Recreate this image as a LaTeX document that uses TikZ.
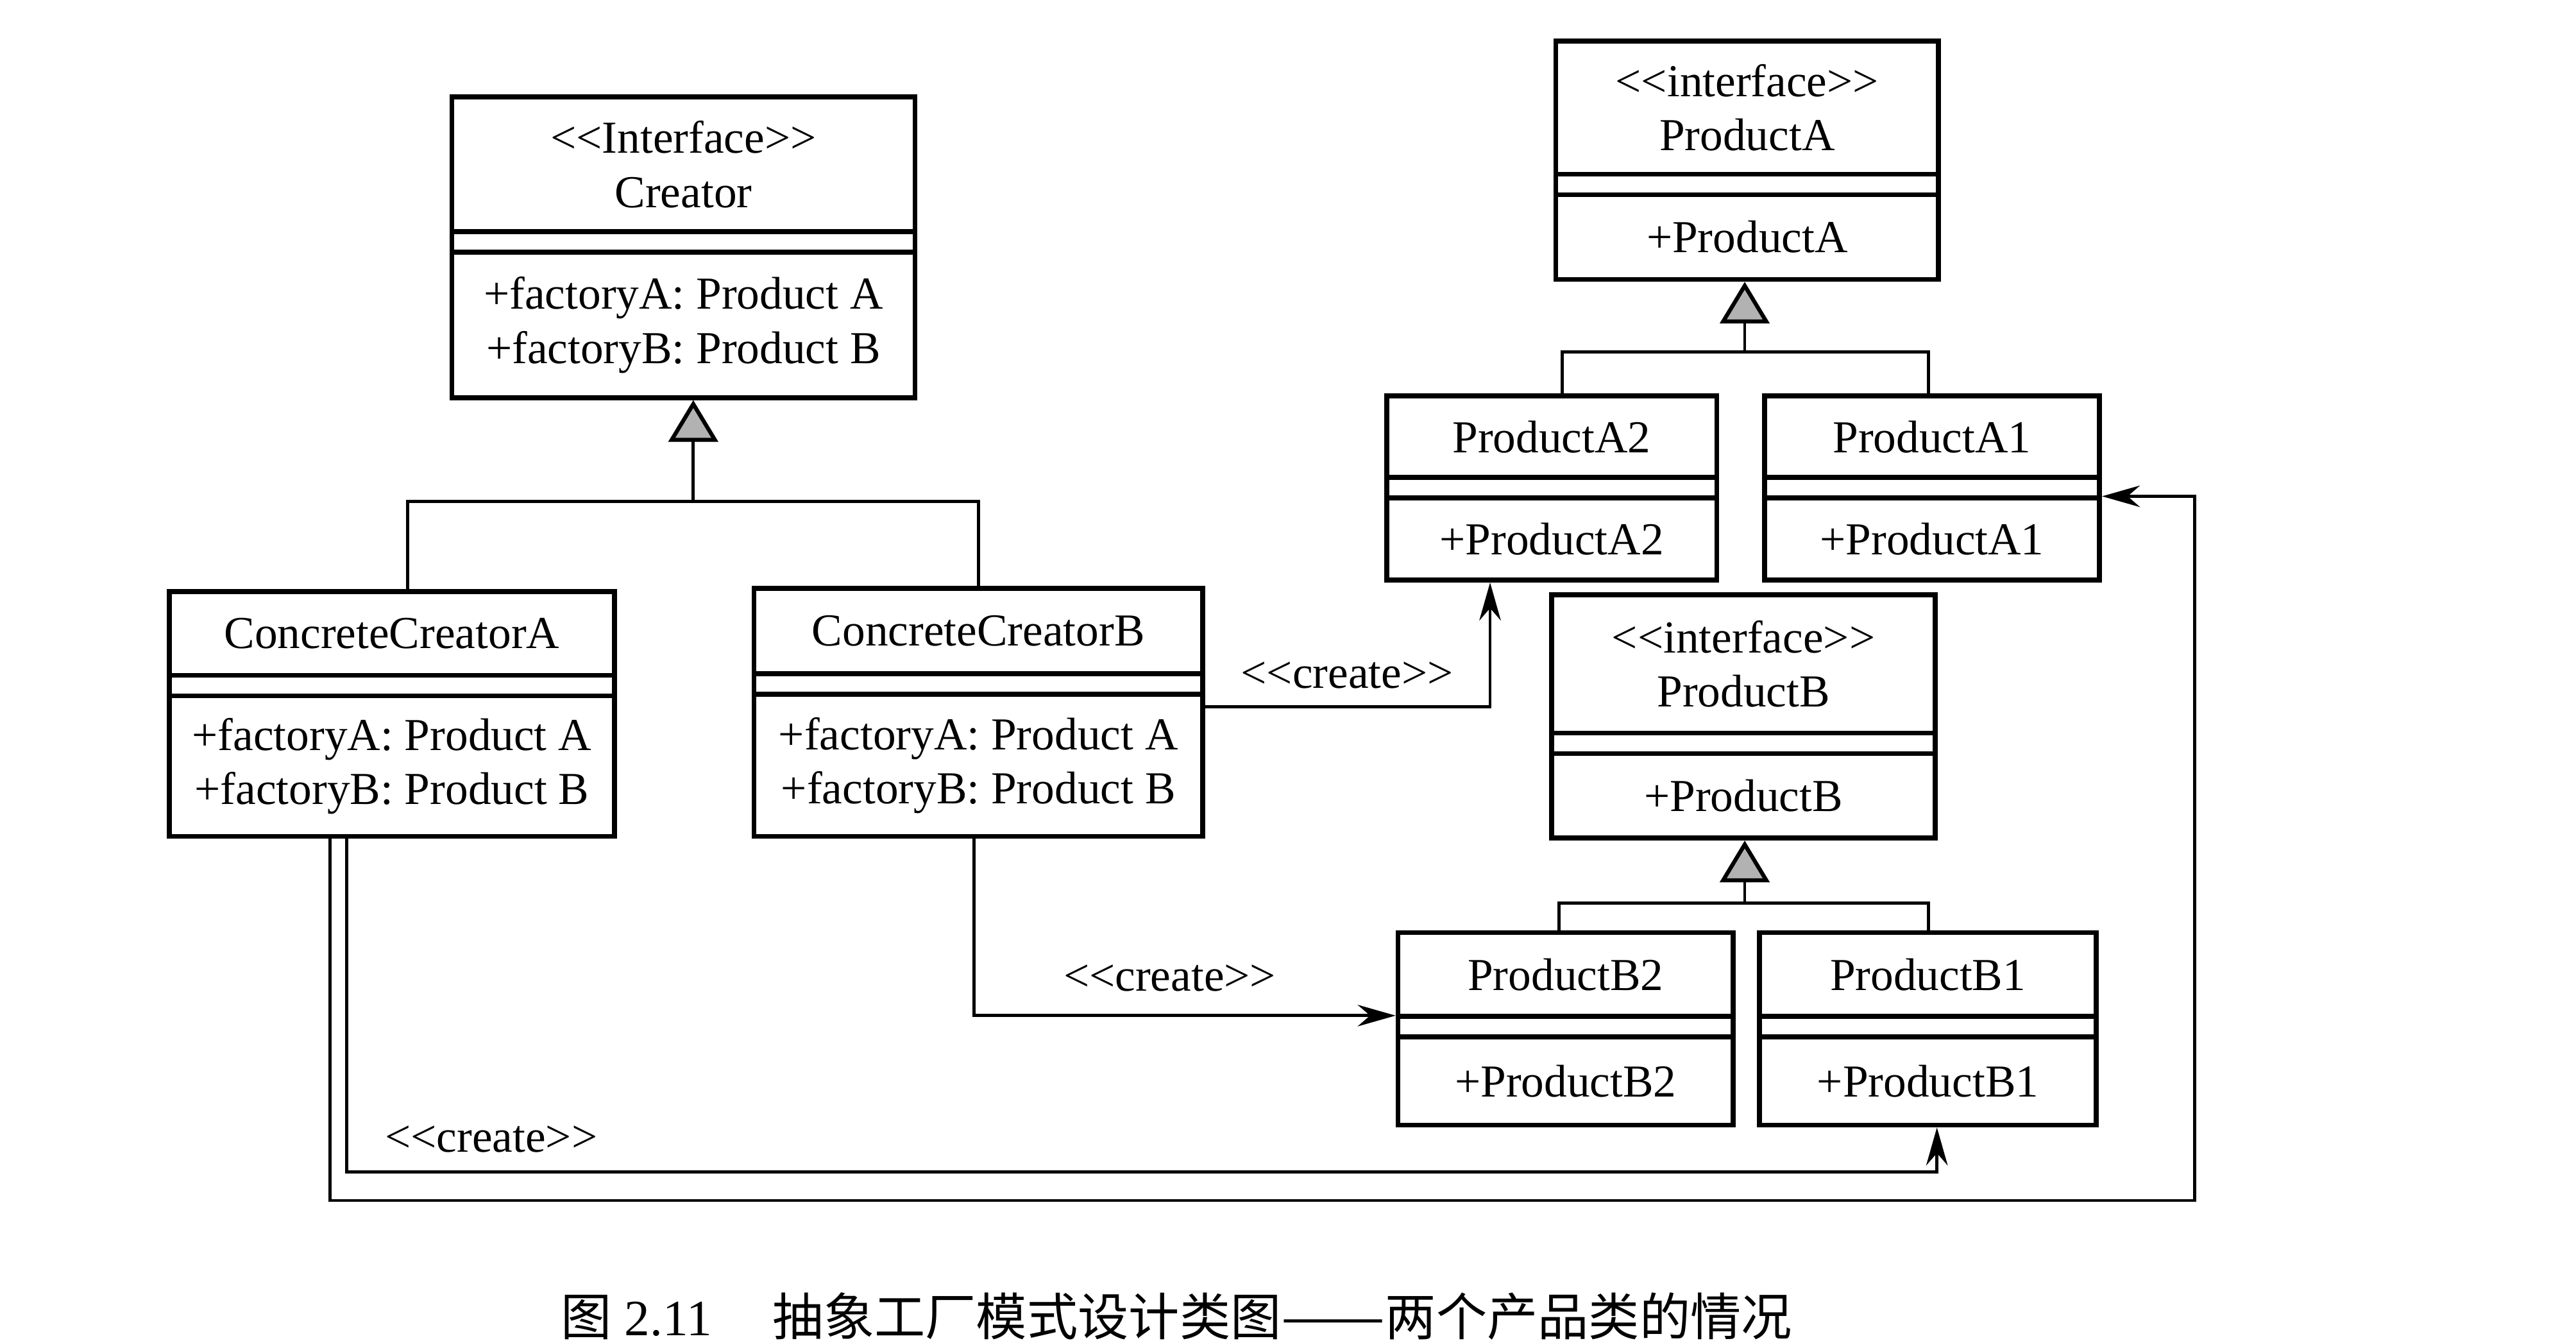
\documentclass[tikz,border=0pt]{standalone}
\usepackage{fontspec}
\setmainfont{Liberation Serif}[Ligatures=TeXOff]
\newfontfamily\cjkfont{Noto Sans CJK SC}
\usepackage{tikz}
\usetikzlibrary{arrows.meta,fit}

\newcommand{\umlsize}{\fontsize{10.3pt}{12.2pt}\selectfont}

\tikzset{
	classbox/.style={draw, line width=1.1pt, inner sep=0pt},
	classline/.style={line width=1.1pt},
	classtext/.style={font=\umlsize, align=center, inner sep=1pt},
	genline/.style={line width=0.7pt},
	inherit/.style={genline, -{Triangle[length=3.3mm, width=3.9mm, fill=gray!60, line width=0.9pt]}},
	createline/.style={line width=0.7pt, -{Stealth[length=3mm, width=1.7mm]}},
	createlbl/.style={font=\umlsize, inner sep=1pt}
}

% class box: name, left, top, right, bottom, first separator, title, operations
\newcommand{\umlclass}[8]{%
	\node[classbox, fit={({#2},{#3}) ({#4},{#5})}] (#1) {};
	\draw[classline] ({#2},{#6}) -- ({#4},{#6});
	\draw[classline] ({#2},{#6+12.5}) -- ({#4},{#6+12.5});
	\node[classtext] (#1-name) at ({(#2+#4)/2},{(#3+#6)/2}) {#7};
	\node[classtext] (#1-ops) at ({(#2+#4)/2},{(#6+12.5+#5)/2}) {#8};
}

\begin{document}
\begin{tikzpicture}[x=0.013cm, y=-0.013cm]
		\fill[white] (0,0) rectangle (1568,816);
		\useasboundingbox (0,0) rectangle (1568,816);
		
		% creators
		\umlclass{creator}{275}{59}{557}{242}{141}{<<Interface>>\\Creator}{+factoryA: Product A\\+factoryB: Product B}
		\umlclass{cca}{103}{360}{374}{509}{411}{ConcreteCreatorA}{+factoryA: Product A\\+factoryB: Product B}
		\umlclass{ccb}{459}{358}{732}{509}{410}{ConcreteCreatorB}{+factoryA: Product A\\+factoryB: Product B}
		
		% products
		\umlclass{pa}{947}{25}{1180}{170}{106}{<<interface>>\\ProductA}{+ProductA}
		\umlclass{pa2}{844}{241}{1045}{353}{290.5}{ProductA2}{+ProductA2}
		\umlclass{pa1}{1074}{241}{1278}{353}{290.5}{ProductA1}{+ProductA1}
		\umlclass{pb}{944.5}{362}{1178}{510}{446}{<<interface>>\\ProductB}{+ProductB}
		\umlclass{pb2}{851}{567.5}{1055}{684.6}{618.5}{ProductB2}{+ProductB2}
		\umlclass{pb1}{1071}{567.5}{1276}{684.6}{618.5}{ProductB1}{+ProductB1}
		
		% generalisation
		\coordinate (cbarL) at (248,305);
		\coordinate (cbarM) at (422,305);
		\coordinate (cbarR) at (595.5,305);
		\draw[genline] (cca.north -| cbarL) -- (cbarL) -- (cbarR) -- (ccb.north -| cbarR);
		\draw[inherit] (cbarM) -- (creator.south -| cbarM);
		
		\coordinate (abarL) at (951,214);
		\coordinate (abarM) at (1062,214);
		\coordinate (abarR) at (1174,214);
		\draw[genline] (pa2.north -| abarL) -- (abarL) -- (abarR) -- (pa1.north -| abarR);
		\draw[inherit] (abarM) -- (pa.south -| abarM);
		
		\coordinate (bbarL) at (949,549.5);
		\coordinate (bbarM) at (1062,549.5);
		\coordinate (bbarR) at (1174,549.5);
		\draw[genline] (pb2.north -| bbarL) -- (bbarL) -- (bbarR) -- (pb1.north -| bbarR);
		\draw[inherit] (bbarM) -- (pb.south -| bbarM);
		
		% <<create>> dependencies
		\coordinate (c1) at (907,430);
		\draw[createline] (ccb.east |- c1) -- (c1) -- (pa2.south -| c1);
		\node[createlbl] (create1) at (820,411) {<<create>>};
		
		\coordinate (c2) at (593,618);
		\draw[createline] (ccb.south -| c2) -- (c2) -- (pb2.west |- c2);
		\node[createlbl] (create2) at (712,595) {<<create>>};
		
		\coordinate (c3l) at (211,713);
		\coordinate (c3r) at (1179,713);
		\draw[createline] (cca.south -| c3l) -- (c3l) -- (c3r) -- (pb1.south -| c3r);
		\node[createlbl] (create3) at (299,693) {<<create>>};
		
		\coordinate (c4l) at (201,730.5);
		\coordinate (c4r) at (1336,730.5);
		\coordinate (c4t) at (1336,302);
		\draw[createline] (cca.south -| c4l) -- (c4l) -- (c4r) -- (c4t) -- (pa1.east |- c4t);
		
		% caption
		\node[anchor=west, inner sep=0pt, font=\cjkfont\fontsize{11.45pt}{13pt}\selectfont] (caption) at (341,801) {图\hspace{0.25em}{\rmfamily 2.11}\hspace{1.2em}抽象工厂模式设计类图\scalebox{1.22}[1]{——}两个产品类的情况};
	\end{tikzpicture}
\end{document}
